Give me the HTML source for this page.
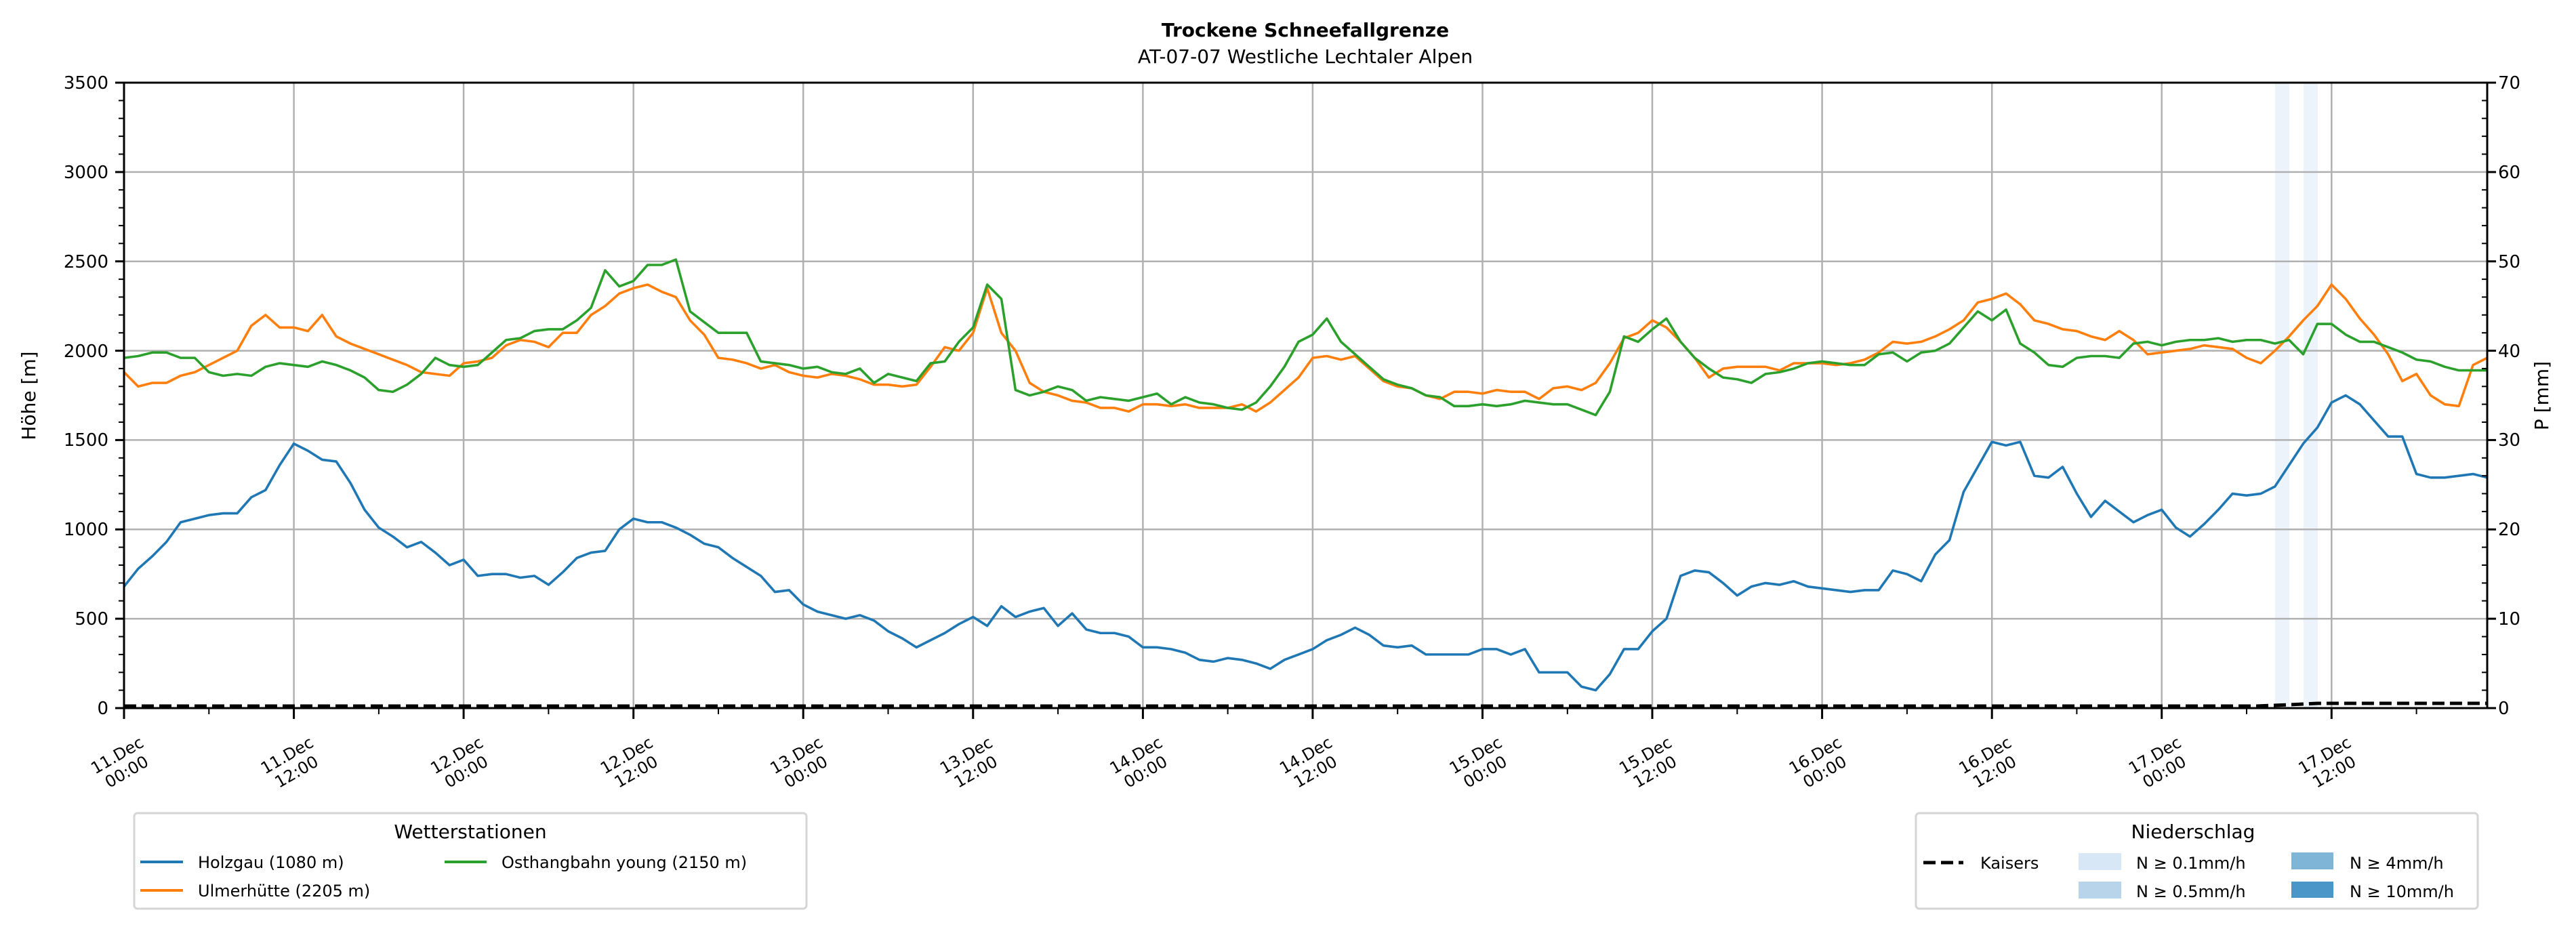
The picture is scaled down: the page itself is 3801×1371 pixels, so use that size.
<!DOCTYPE html>
<html><head><meta charset="utf-8">
<style>
html,body{margin:0;padding:0;background:#fff;}
svg{display:block;font-family:"DejaVu Sans","Liberation Sans",sans-serif;}
</style></head><body>
<svg width="3801" height="1371" viewBox="0 0 3801 1371" xmlns="http://www.w3.org/2000/svg">
<rect width="3801" height="1371" fill="#fff"/>
<!-- title -->
<text x="1926" y="54" font-size="28" font-weight="bold" text-anchor="middle">Trockene Schneefallgrenze</text>
<text x="1926" y="93" font-size="28" text-anchor="middle">AT-07-07 Westliche Lechtaler Alpen</text>

<!-- precipitation bands -->
<rect x="3357" y="122" width="21" height="923" fill="#edf3fb"/>
<rect x="3399" y="122" width="21" height="923" fill="#edf3fb"/>

<!-- grid -->
<g stroke="#b0b0b0" stroke-width="2.5">
<line x1="183" x2="3670" y1="913.1" y2="913.1"/>
<line x1="183" x2="3670" y1="781.3" y2="781.3"/>
<line x1="183" x2="3670" y1="649.4" y2="649.4"/>
<line x1="183" x2="3670" y1="517.6" y2="517.6"/>
<line x1="183" x2="3670" y1="385.7" y2="385.7"/>
<line x1="183" x2="3670" y1="253.9" y2="253.9"/>
<line x1="433.6" x2="433.6" y1="122" y2="1045"/>
<line x1="684.1" x2="684.1" y1="122" y2="1045"/>
<line x1="934.7" x2="934.7" y1="122" y2="1045"/>
<line x1="1185.2" x2="1185.2" y1="122" y2="1045"/>
<line x1="1435.8" x2="1435.8" y1="122" y2="1045"/>
<line x1="1686.4" x2="1686.4" y1="122" y2="1045"/>
<line x1="1936.9" x2="1936.9" y1="122" y2="1045"/>
<line x1="2187.5" x2="2187.5" y1="122" y2="1045"/>
<line x1="2438" x2="2438" y1="122" y2="1045"/>
<line x1="2688.6" x2="2688.6" y1="122" y2="1045"/>
<line x1="2939.2" x2="2939.2" y1="122" y2="1045"/>
<line x1="3189.7" x2="3189.7" y1="122" y2="1045"/>
<line x1="3440.3" x2="3440.3" y1="122" y2="1045"/>
</g>

<!-- series -->
<g transform="translate(183,1045) scale(20.88,-0.26371)" fill="none" stroke-width="3.6" stroke-linejoin="round">
<polyline vector-effect="non-scaling-stroke" stroke="#1f77b4" points="0,680 1,780 2,850 3,930 4,1040 5,1060 6,1080 7,1090 8,1090 9,1180 10,1220 11,1360 12,1480 13,1440 14,1390 15,1380 16,1260 17,1110 18,1010 19,960 20,900 21,930 22,870 23,800 24,830 25,740 26,750 27,750 28,730 29,740 30,690 31,760 32,840 33,870 34,880 35,1000 36,1060 37,1040 38,1040 39,1010 40,970 41,920 42,900 43,840 44,790 45,740 46,650 47,660 48,580 49,540 50,520 51,500 52,520 53,490 54,430 55,390 56,340 57,380 58,420 59,470 60,510 61,460 62,570 63,510 64,540 65,560 66,460 67,530 68,440 69,420 70,420 71,400 72,340 73,340 74,330 75,310 76,270 77,260 78,280 79,270 80,250 81,220 82,270 83,300 84,330 85,380 86,410 87,450 88,410 89,350 90,340 91,350 92,300 93,300 94,300 95,300 96,330 97,330 98,300 99,330 100,200 101,200 102,200 103,120 104,100 105,190 106,330 107,330 108,430 109,500 110,740 111,770 112,760 113,700 114,630 115,680 116,700 117,690 118,710 119,680 120,670 121,660 122,650 123,660 124,660 125,770 126,750 127,710 128,860 129,940 130,1210 131,1350 132,1490 133,1470 134,1490 135,1300 136,1290 137,1350 138,1200 139,1070 140,1160 141,1100 142,1040 143,1080 144,1110 145,1010 146,960 147,1030 148,1110 149,1200 150,1190 151,1200 152,1240 153,1360 154,1480 155,1570 156,1710 157,1750 158,1700 159,1610 160,1520 161,1520 162,1310 163,1290 164,1290 165,1300 166,1310 167,1290"/>
<polyline vector-effect="non-scaling-stroke" stroke="#ff7f0e" points="0,1880 1,1800 2,1820 3,1820 4,1860 5,1880 6,1920 7,1960 8,2000 9,2140 10,2200 11,2130 12,2130 13,2110 14,2200 15,2080 16,2040 17,2010 18,1980 19,1950 20,1920 21,1880 22,1870 23,1860 24,1930 25,1940 26,1960 27,2030 28,2060 29,2050 30,2020 31,2100 32,2100 33,2200 34,2250 35,2320 36,2350 37,2370 38,2330 39,2300 40,2170 41,2090 42,1960 43,1950 44,1930 45,1900 46,1920 47,1880 48,1860 49,1850 50,1870 51,1860 52,1840 53,1810 54,1810 55,1800 56,1810 57,1910 58,2020 59,2000 60,2100 61,2350 62,2100 63,2000 64,1820 65,1770 66,1750 67,1720 68,1710 69,1680 70,1680 71,1660 72,1700 73,1700 74,1690 75,1700 76,1680 77,1680 78,1680 79,1700 80,1660 81,1710 82,1780 83,1850 84,1960 85,1970 86,1950 87,1970 88,1900 89,1830 90,1800 91,1790 92,1750 93,1730 94,1770 95,1770 96,1760 97,1780 98,1770 99,1770 100,1730 101,1790 102,1800 103,1780 104,1820 105,1930 106,2070 107,2100 108,2170 109,2130 110,2050 111,1960 112,1850 113,1900 114,1910 115,1910 116,1910 117,1890 118,1930 119,1930 120,1930 121,1920 122,1930 123,1950 124,1990 125,2050 126,2040 127,2050 128,2080 129,2120 130,2170 131,2270 132,2290 133,2320 134,2260 135,2170 136,2150 137,2120 138,2110 139,2080 140,2060 141,2110 142,2060 143,1980 144,1990 145,2000 146,2010 147,2030 148,2020 149,2010 150,1960 151,1930 152,2000 153,2080 154,2170 155,2250 156,2370 157,2290 158,2180 159,2090 160,1980 161,1830 162,1870 163,1750 164,1700 165,1690 166,1920 167,1960"/>
<polyline vector-effect="non-scaling-stroke" stroke="#2ca02c" points="0,1960 1,1970 2,1990 3,1990 4,1960 5,1960 6,1880 7,1860 8,1870 9,1860 10,1910 11,1930 12,1920 13,1910 14,1940 15,1920 16,1890 17,1850 18,1780 19,1770 20,1810 21,1870 22,1960 23,1920 24,1910 25,1920 26,1990 27,2060 28,2070 29,2110 30,2120 31,2120 32,2170 33,2240 34,2450 35,2360 36,2390 37,2480 38,2480 39,2510 40,2220 41,2160 42,2100 43,2100 44,2100 45,1940 46,1930 47,1920 48,1900 49,1910 50,1880 51,1870 52,1900 53,1820 54,1870 55,1850 56,1830 57,1930 58,1940 59,2050 60,2130 61,2370 62,2290 63,1780 64,1750 65,1770 66,1800 67,1780 68,1720 69,1740 70,1730 71,1720 72,1740 73,1760 74,1700 75,1740 76,1710 77,1700 78,1680 79,1670 80,1710 81,1800 82,1910 83,2050 84,2090 85,2180 86,2050 87,1980 88,1910 89,1840 90,1810 91,1790 92,1750 93,1740 94,1690 95,1690 96,1700 97,1690 98,1700 99,1720 100,1710 101,1700 102,1700 103,1670 104,1640 105,1770 106,2080 107,2050 108,2120 109,2180 110,2050 111,1960 112,1900 113,1850 114,1840 115,1820 116,1870 117,1880 118,1900 119,1930 120,1940 121,1930 122,1920 123,1920 124,1980 125,1990 126,1940 127,1990 128,2000 129,2040 130,2130 131,2220 132,2170 133,2230 134,2040 135,1990 136,1920 137,1910 138,1960 139,1970 140,1970 141,1960 142,2040 143,2050 144,2030 145,2050 146,2060 147,2060 148,2070 149,2050 150,2060 151,2060 152,2040 153,2060 154,1980 155,2150 156,2150 157,2090 158,2050 159,2050 160,2020 161,1990 162,1950 163,1940 164,1910 165,1890 166,1890 167,1890"/>
</g>

<!-- Kaisers dashed -->
<polyline points="183,1042 3330,1042 3378,1040 3420,1038 3670,1038" fill="none" stroke="#000" stroke-width="5" stroke-dasharray="18,8"/>

<!-- axes frame -->
<rect x="183" y="122" width="3487" height="923" fill="none" stroke="#000" stroke-width="3"/>

<!-- left y ticks -->
<g stroke="#000" stroke-width="3">
<line x1="170" x2="183" y1="1045" y2="1045"/><line x1="170" x2="183" y1="913.1" y2="913.1"/><line x1="170" x2="183" y1="781.3" y2="781.3"/><line x1="170" x2="183" y1="649.4" y2="649.4"/><line x1="170" x2="183" y1="517.6" y2="517.6"/><line x1="170" x2="183" y1="385.7" y2="385.7"/><line x1="170" x2="183" y1="253.9" y2="253.9"/><line x1="170" x2="183" y1="122" y2="122"/>
</g>
<g stroke="#000" stroke-width="2">
<line x1="175" x2="183" y1="1018.6" y2="1018.6"/><line x1="175" x2="183" y1="992.3" y2="992.3"/><line x1="175" x2="183" y1="965.9" y2="965.9"/><line x1="175" x2="183" y1="939.5" y2="939.5"/>
<line x1="175" x2="183" y1="886.7" y2="886.7"/><line x1="175" x2="183" y1="860.4" y2="860.4"/><line x1="175" x2="183" y1="834" y2="834"/><line x1="175" x2="183" y1="807.6" y2="807.6"/>
<line x1="175" x2="183" y1="754.9" y2="754.9"/><line x1="175" x2="183" y1="728.5" y2="728.5"/><line x1="175" x2="183" y1="702.1" y2="702.1"/><line x1="175" x2="183" y1="675.8" y2="675.8"/>
<line x1="175" x2="183" y1="623" y2="623"/><line x1="175" x2="183" y1="596.6" y2="596.6"/><line x1="175" x2="183" y1="570.3" y2="570.3"/><line x1="175" x2="183" y1="543.9" y2="543.9"/>
<line x1="175" x2="183" y1="491.2" y2="491.2"/><line x1="175" x2="183" y1="464.8" y2="464.8"/><line x1="175" x2="183" y1="438.4" y2="438.4"/><line x1="175" x2="183" y1="412.1" y2="412.1"/>
<line x1="175" x2="183" y1="359.3" y2="359.3"/><line x1="175" x2="183" y1="332.9" y2="332.9"/><line x1="175" x2="183" y1="306.6" y2="306.6"/><line x1="175" x2="183" y1="280.2" y2="280.2"/>
<line x1="175" x2="183" y1="227.5" y2="227.5"/><line x1="175" x2="183" y1="201.1" y2="201.1"/><line x1="175" x2="183" y1="174.7" y2="174.7"/><line x1="175" x2="183" y1="148.4" y2="148.4"/>
</g>
<g font-size="26" text-anchor="end">
<text x="160" y="1054">0</text><text x="160" y="922">500</text><text x="160" y="790">1000</text><text x="160" y="658">1500</text><text x="160" y="527">2000</text><text x="160" y="395">2500</text><text x="160" y="263">3000</text><text x="160" y="131">3500</text>
</g>
<text transform="translate(52,584) rotate(-90)" font-size="28" text-anchor="middle">Höhe [m]</text>

<!-- right y ticks -->
<g stroke="#000" stroke-width="3">
<line x1="3670" x2="3683" y1="1045" y2="1045"/><line x1="3670" x2="3683" y1="913.1" y2="913.1"/><line x1="3670" x2="3683" y1="781.3" y2="781.3"/><line x1="3670" x2="3683" y1="649.4" y2="649.4"/><line x1="3670" x2="3683" y1="517.6" y2="517.6"/><line x1="3670" x2="3683" y1="385.7" y2="385.7"/><line x1="3670" x2="3683" y1="253.9" y2="253.9"/><line x1="3670" x2="3683" y1="122" y2="122"/>
</g>
<g stroke="#000" stroke-width="2">
<line x1="3662" x2="3670" y1="1018.6" y2="1018.6"/><line x1="3662" x2="3670" y1="992.3" y2="992.3"/><line x1="3662" x2="3670" y1="965.9" y2="965.9"/><line x1="3662" x2="3670" y1="939.5" y2="939.5"/>
<line x1="3662" x2="3670" y1="886.7" y2="886.7"/><line x1="3662" x2="3670" y1="860.4" y2="860.4"/><line x1="3662" x2="3670" y1="834" y2="834"/><line x1="3662" x2="3670" y1="807.6" y2="807.6"/>
<line x1="3662" x2="3670" y1="754.9" y2="754.9"/><line x1="3662" x2="3670" y1="728.5" y2="728.5"/><line x1="3662" x2="3670" y1="702.1" y2="702.1"/><line x1="3662" x2="3670" y1="675.8" y2="675.8"/>
<line x1="3662" x2="3670" y1="623" y2="623"/><line x1="3662" x2="3670" y1="596.6" y2="596.6"/><line x1="3662" x2="3670" y1="570.3" y2="570.3"/><line x1="3662" x2="3670" y1="543.9" y2="543.9"/>
<line x1="3662" x2="3670" y1="491.2" y2="491.2"/><line x1="3662" x2="3670" y1="464.8" y2="464.8"/><line x1="3662" x2="3670" y1="438.4" y2="438.4"/><line x1="3662" x2="3670" y1="412.1" y2="412.1"/>
<line x1="3662" x2="3670" y1="359.3" y2="359.3"/><line x1="3662" x2="3670" y1="332.9" y2="332.9"/><line x1="3662" x2="3670" y1="306.6" y2="306.6"/><line x1="3662" x2="3670" y1="280.2" y2="280.2"/>
<line x1="3662" x2="3670" y1="227.5" y2="227.5"/><line x1="3662" x2="3670" y1="201.1" y2="201.1"/><line x1="3662" x2="3670" y1="174.7" y2="174.7"/><line x1="3662" x2="3670" y1="148.4" y2="148.4"/>
</g>
<g font-size="26" text-anchor="start">
<text x="3686" y="1054">0</text><text x="3686" y="922">10</text><text x="3686" y="790">20</text><text x="3686" y="658">30</text><text x="3686" y="527">40</text><text x="3686" y="395">50</text><text x="3686" y="263">60</text><text x="3686" y="131">70</text>
</g>
<text transform="translate(3760,584) rotate(-90)" font-size="28" text-anchor="middle">P [mm]</text>

<!-- x ticks -->
<g stroke="#000" stroke-width="3">
<line y1="1045" y2="1061" x1="183" x2="183"/><line y1="1045" y2="1061" x1="433.6" x2="433.6"/><line y1="1045" y2="1061" x1="684.1" x2="684.1"/><line y1="1045" y2="1061" x1="934.7" x2="934.7"/><line y1="1045" y2="1061" x1="1185.2" x2="1185.2"/><line y1="1045" y2="1061" x1="1435.8" x2="1435.8"/><line y1="1045" y2="1061" x1="1686.4" x2="1686.4"/><line y1="1045" y2="1061" x1="1936.9" x2="1936.9"/><line y1="1045" y2="1061" x1="2187.5" x2="2187.5"/><line y1="1045" y2="1061" x1="2438" x2="2438"/><line y1="1045" y2="1061" x1="2688.6" x2="2688.6"/><line y1="1045" y2="1061" x1="2939.2" x2="2939.2"/><line y1="1045" y2="1061" x1="3189.7" x2="3189.7"/><line y1="1045" y2="1061" x1="3440.3" x2="3440.3"/>
</g>
<g stroke="#000" stroke-width="2">
<line y1="1045" y2="1054" x1="308.3" x2="308.3"/><line y1="1045" y2="1054" x1="558.9" x2="558.9"/><line y1="1045" y2="1054" x1="809.4" x2="809.4"/><line y1="1045" y2="1054" x1="1060" x2="1060"/><line y1="1045" y2="1054" x1="1310.5" x2="1310.5"/><line y1="1045" y2="1054" x1="1561.1" x2="1561.1"/><line y1="1045" y2="1054" x1="1811.6" x2="1811.6"/><line y1="1045" y2="1054" x1="2062.2" x2="2062.2"/><line y1="1045" y2="1054" x1="2312.8" x2="2312.8"/><line y1="1045" y2="1054" x1="2563.3" x2="2563.3"/><line y1="1045" y2="1054" x1="2813.9" x2="2813.9"/><line y1="1045" y2="1054" x1="3064.4" x2="3064.4"/><line y1="1045" y2="1054" x1="3315" x2="3315"/><line y1="1045" y2="1054" x1="3565.6" x2="3565.6"/>
</g>
<g font-size="24" text-anchor="middle">
<g transform="translate(180,1127) rotate(-30)"><text y="-6">11.Dec</text><text y="22">00:00</text></g>
<g transform="translate(430.6,1127) rotate(-30)"><text y="-6">11.Dec</text><text y="22">12:00</text></g>
<g transform="translate(681.1,1127) rotate(-30)"><text y="-6">12.Dec</text><text y="22">00:00</text></g>
<g transform="translate(931.7,1127) rotate(-30)"><text y="-6">12.Dec</text><text y="22">12:00</text></g>
<g transform="translate(1182.2,1127) rotate(-30)"><text y="-6">13.Dec</text><text y="22">00:00</text></g>
<g transform="translate(1432.8,1127) rotate(-30)"><text y="-6">13.Dec</text><text y="22">12:00</text></g>
<g transform="translate(1683.4,1127) rotate(-30)"><text y="-6">14.Dec</text><text y="22">00:00</text></g>
<g transform="translate(1933.9,1127) rotate(-30)"><text y="-6">14.Dec</text><text y="22">12:00</text></g>
<g transform="translate(2184.5,1127) rotate(-30)"><text y="-6">15.Dec</text><text y="22">00:00</text></g>
<g transform="translate(2435,1127) rotate(-30)"><text y="-6">15.Dec</text><text y="22">12:00</text></g>
<g transform="translate(2685.6,1127) rotate(-30)"><text y="-6">16.Dec</text><text y="22">00:00</text></g>
<g transform="translate(2936.2,1127) rotate(-30)"><text y="-6">16.Dec</text><text y="22">12:00</text></g>
<g transform="translate(3186.7,1127) rotate(-30)"><text y="-6">17.Dec</text><text y="22">00:00</text></g>
<g transform="translate(3437.3,1127) rotate(-30)"><text y="-6">17.Dec</text><text y="22">12:00</text></g>
</g>

<!-- left legend -->
<rect x="198" y="1200" width="992" height="141" rx="5" fill="#fff" stroke="#d5d5d5" stroke-width="3"/>
<text x="694" y="1237" font-size="28" text-anchor="middle">Wetterstationen</text>
<line x1="207" x2="270" y1="1272" y2="1272" stroke="#1f77b4" stroke-width="4"/>
<text x="292" y="1281" font-size="24">Holzgau (1080 m)</text>
<line x1="207" x2="270" y1="1314" y2="1314" stroke="#ff7f0e" stroke-width="4"/>
<text x="292" y="1323" font-size="24">Ulmerhütte (2205 m)</text>
<line x1="656" x2="718" y1="1272" y2="1272" stroke="#2ca02c" stroke-width="4"/>
<text x="740" y="1281" font-size="24">Osthangbahn young (2150 m)</text>

<!-- right legend -->
<rect x="2827" y="1200" width="829" height="141" rx="5" fill="#fff" stroke="#d5d5d5" stroke-width="3"/>
<text x="3236" y="1237" font-size="28" text-anchor="middle">Niederschlag</text>
<line x1="2838" x2="2897" y1="1273" y2="1273" stroke="#000" stroke-width="5" stroke-dasharray="18,8"/>
<text x="2922" y="1282" font-size="24">Kaisers</text>
<rect x="3067" y="1259" width="63" height="25" fill="#d8e7f5"/>
<text x="3152" y="1282" font-size="24">N ≥ 0.1mm/h</text>
<rect x="3067" y="1301" width="63" height="25" fill="#b8d4ea"/>
<text x="3152" y="1324" font-size="24">N ≥ 0.5mm/h</text>
<rect x="3381" y="1258" width="62" height="25" fill="#7fb6d8"/>
<text x="3467" y="1282" font-size="24">N ≥ 4mm/h</text>
<rect x="3381" y="1301" width="62" height="24" fill="#4a96c8"/>
<text x="3467" y="1324" font-size="24">N ≥ 10mm/h</text>
</svg>
</body></html>
